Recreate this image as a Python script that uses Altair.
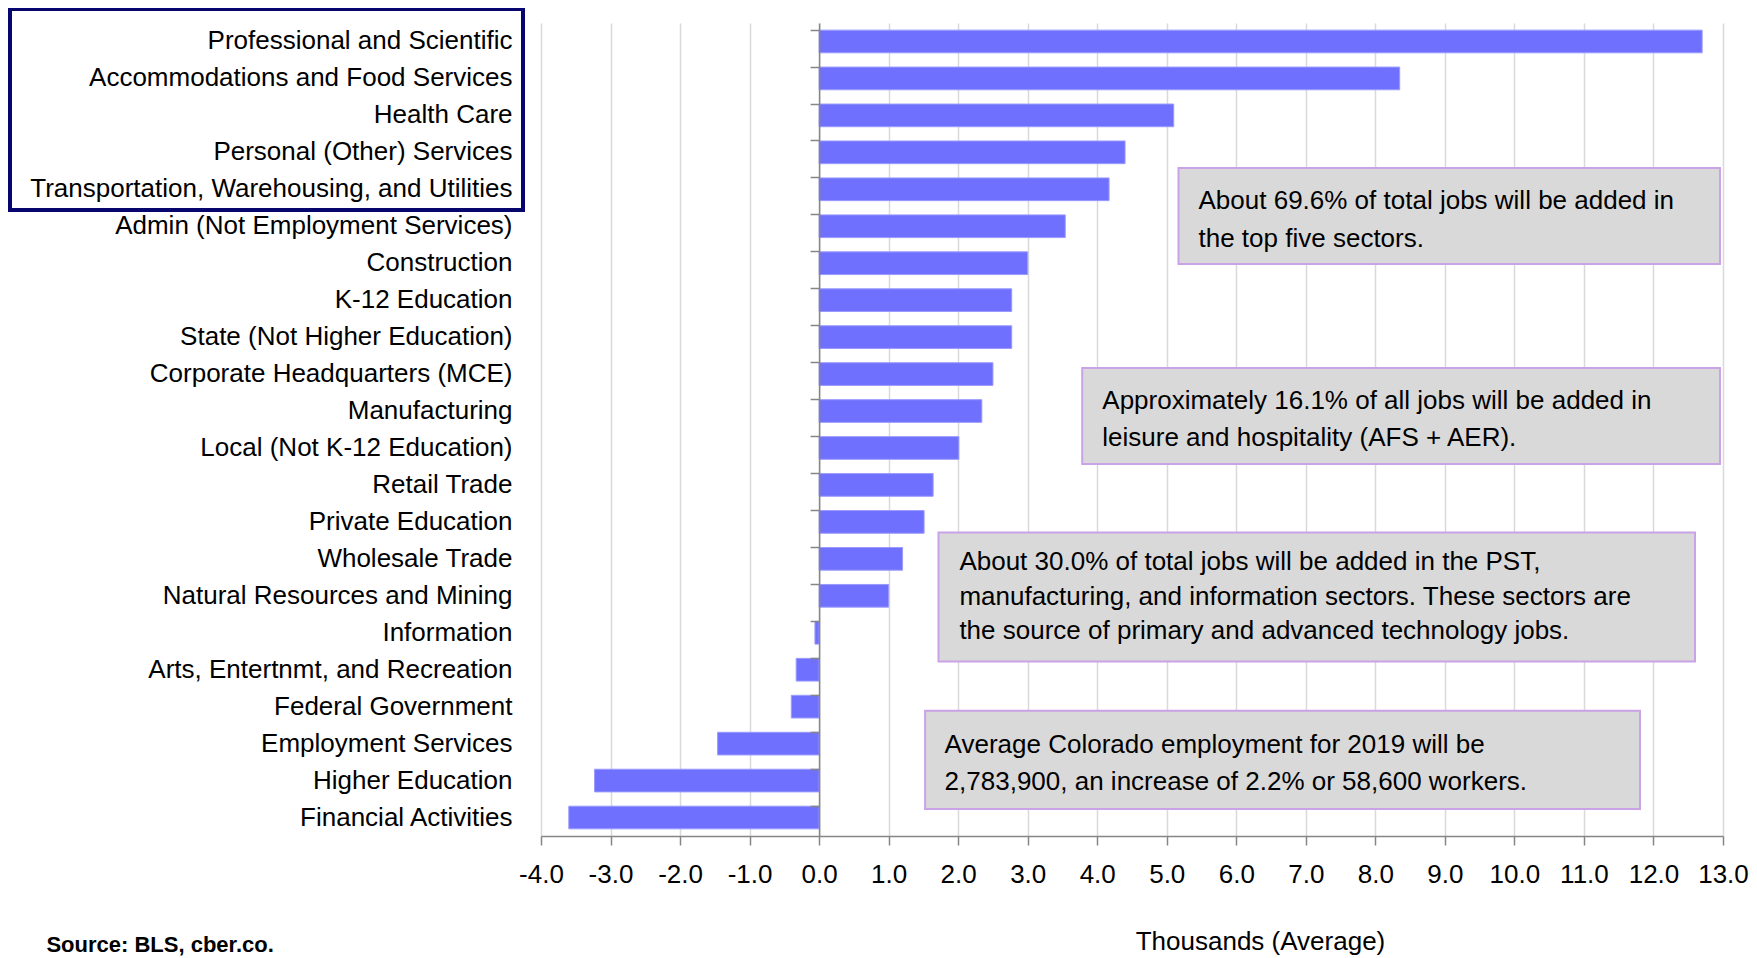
import altair as alt
import pandas as pd

# ---------------- data ----------------
sectors = [
    "Professional and Scientific",
    "Accommodations and Food Services",
    "Health Care",
    "Personal (Other) Services",
    "Transportation, Warehousing, and Utilities",
    "Admin (Not Employment Services)",
    "Construction",
    "K-12 Education",
    "State (Not Higher Education)",
    "Corporate Headquarters (MCE)",
    "Manufacturing",
    "Local (Not K-12 Education)",
    "Retail Trade",
    "Private Education",
    "Wholesale Trade",
    "Natural Resources and Mining",
    "Information",
    "Arts, Entertnmt, and Recreation",
    "Federal Government",
    "Employment Services",
    "Higher Education",
    "Financial Activities",
]
values = [12.70, 8.35, 5.10, 4.40, 4.17, 3.54, 3.00, 2.77, 2.77, 2.50, 2.34,
          2.01, 1.64, 1.51, 1.20, 1.00, -0.06, -0.33, -0.40, -1.46, -3.23, -3.60]
x_ticks = [-4, -3, -2, -1, 0, 1, 2, 3, 4, 5, 6, 7, 8, 9, 10, 11, 12, 13]

note1 = ["About 69.6% of total jobs will be added in", "the top five sectors."]
note2 = ["Approximately 16.1% of all jobs will be added in",
         "leisure and hospitality (AFS + AER)."]
note3 = ["About 30.0% of total jobs will be added in the PST,",
         "manufacturing, and information sectors. These sectors are",
         "the source of primary and advanced technology jobs."]
note4 = ["Average Colorado employment for 2019 will be",
         "2,783,900, an increase of 2.2% or 58,600 workers."]
source_text = "Source: BLS, cber.co."
x_title = "Thousands (Average)"

# ---------------- layout / style ----------------
XMIN, XMAX = -4.0, 13.0
W, H = 1182, 813
FONT = "Liberation Sans, Arial, sans-serif"
FS = 26
BAR = "#7070ff"
GRID = "#d9d9d9"
AXIS = "#868686"
BOX_FILL = "#d9d9d9"
BOX_STROKE = "#c9a3e6"
NAVY = "#06066e"

df = pd.DataFrame({"sector": sectors, "value": values})
one = pd.DataFrame({"k": [0]})

y_scale = alt.Scale(domain=sectors, paddingInner=0.386, paddingOuter=0.193)
x_scale = alt.Scale(domain=[XMIN, XMAX], nice=False, zero=False)

x_axis = alt.Axis(
    values=x_ticks,
    labelExpr="datum.value < 0 ? '-' + format(-datum.value, '.1f') : format(datum.value, '.1f')",
    labelOverlap=False, labelFlush=False,
    grid=True, gridColor=GRID, gridWidth=1.5,
    domainColor=AXIS, domainWidth=1.5, tickColor=AXIS, tickSize=9, tickWidth=1.5,
    labelFont=FONT, labelFontSize=FS, labelColor="black", labelPadding=16,
    title=x_title, titleFont=FONT, titleFontSize=FS, titleFontWeight="normal",
    titleColor="black", titleX=719, titleY=113, titleAlign="center",
    titleBaseline="alphabetic",
)

bars = alt.Chart(df).mark_bar(color=BAR, stroke="#9a9aff", strokeWidth=1).encode(
    x=alt.X("value:Q", scale=x_scale, axis=x_axis),
    y=alt.Y("sector:N", sort=sectors, scale=y_scale,
            axis=alt.Axis(orient="left", title=None, domain=False, ticks=False,
                          tickSize=0, grid=False, labelFont=FONT, labelFontSize=FS,
                          labelColor="black", labelPadding=29, labelLimit=700)),
)

zero_offset = -(0 - XMIN) / (XMAX - XMIN) * W
zero_axis = alt.Chart(df).mark_bar(opacity=0).encode(
    x=alt.X("value:Q", scale=x_scale, axis=x_axis),
    y=alt.Y("sector:N", sort=sectors, scale=y_scale,
            axis=alt.Axis(orient="left", title=None, labels=False, domain=True,
                          domainColor=AXIS, domainWidth=1.5, ticks=True,
                          tickColor=AXIS, tickSize=9, tickWidth=1.5, bandPosition=0,
                          offset=zero_offset, grid=False, zindex=2)),
)


def box(x1, x2, y1, y2):
    return alt.Chart(one).mark_rect(fill=BOX_FILL, stroke=BOX_STROKE, strokeWidth=2).encode(
        x=alt.value(x1), x2=alt.value(x2), y=alt.value(y1), y2=alt.value(y2))


def note(lines, x, y, lh):
    return alt.Chart(one).mark_text(
        text=lines, align="left", baseline="alphabetic", font=FONT, fontSize=FS,
        lineHeight=lh, color="black").encode(x=alt.value(x), y=alt.value(y))


frame = alt.Chart(one).mark_rect(fill="transparent", stroke=NAVY, strokeWidth=4).encode(
    x=alt.value(-531), x2=alt.value(-18), y=alt.value(-14), y2=alt.value(187))

source = alt.Chart(one).mark_text(
    text=source_text, align="left", baseline="alphabetic", font=FONT,
    fontSize=22, fontWeight="bold", color="black").encode(
    x=alt.value(-494.6), y=alt.value(929))

chart = alt.layer(
    bars, zero_axis,
    box(637.5, 1179, 145, 241), note(note1, 657.5, 185.5, 38),
    box(541.2, 1179, 345, 441), note(note2, 561.3, 386, 37.4),
    box(397.5, 1154, 509.4, 638.4), note(note3, 418.4, 547.4, 34.3),
    box(384.1, 1099, 687.7, 786), note(note4, 403.6, 730, 36.7),
    frame, source,
).resolve_axis(y="independent").properties(
    width=W, height=H,
    padding={"left": 533, "top": 15, "right": 26, "bottom": 121},
    autosize=alt.AutoSizeParams(type="none"),
).configure_view(stroke="transparent")

chart.save("out.html", embed_options={"renderer": "svg", "actions": False})
